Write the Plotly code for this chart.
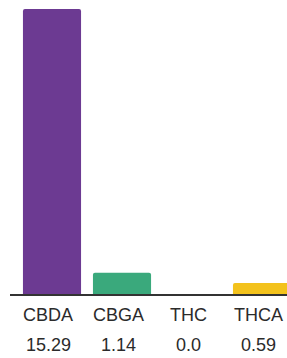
import plotly.graph_objects as go

categories = ["CBDA", "CBGA", "THC", "THCA"]
values = [15.29, 1.14, 0.0, 0.59]
value_labels = ["15.29", "1.14", "0.0", "0.59"]
colors = ["#6c3a92", "#3aa97c", "#999999", "#f3c21c"]

fig = go.Figure(go.Bar(
    x=categories, y=values,
    marker=dict(color=colors, line=dict(width=0), cornerradius=2),
    width=0.83,
    hoverinfo="skip",
))

font = dict(family="Liberation Sans, Arial, sans-serif", size=18, color="#2b2b2b")
for c, lab in zip(categories, value_labels):
    fig.add_annotation(x=c, y=0, xref="x", yref="y", text=c, showarrow=False,
                       yanchor="middle", yshift=-21, xshift=-4, font=font)
    fig.add_annotation(x=c, y=0, xref="x", yref="y", text=lab, showarrow=False,
                       yanchor="middle", yshift=-51, xshift=-4, font=font)

fig.update_layout(
    width=287, height=358,
    margin=dict(l=10, r=0, t=9, b=64),
    paper_bgcolor="white", plot_bgcolor="white",
    showlegend=False,
    xaxis=dict(range=[-0.6, 3.357], showgrid=False, showticklabels=False,
               showline=True, linecolor="#333333", linewidth=1.5, ticks="",
               zeroline=False, fixedrange=True),
    yaxis=dict(range=[0, 15.29], visible=False, fixedrange=True),
)

fig.write_html(
    "out.html",
    config={"displayModeBar": False},
    post_script="document.body.style.margin='0';document.body.style.overflow='hidden';",
)
